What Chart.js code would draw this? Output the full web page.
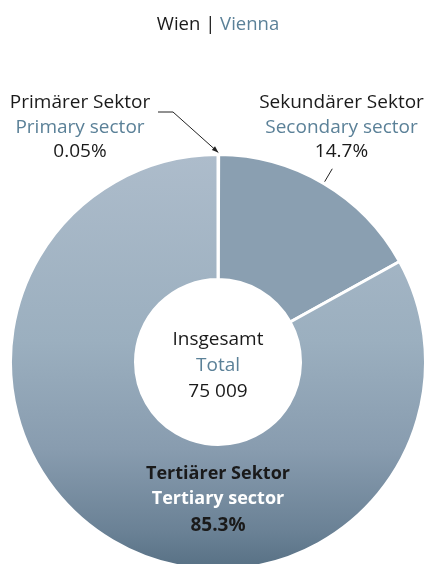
<!DOCTYPE html>
<html>
<head>
<meta charset="utf-8">
<script src="https://cdn.jsdelivr.net/npm/chart.js@4.4.1/dist/chart.umd.min.js"></script>
<style>
  html, body { margin: 0; padding: 0; background: #ffffff; }
  canvas { display: block; }
</style>
</head>
<body>
<canvas id="c" width="428" height="564"></canvas>
<script>
// ---- data ----
const categoriesDe = ['Primärer Sektor', 'Sekundärer Sektor', 'Tertiärer Sektor'];
const categoriesEn = ['Primary sector', 'Secondary sector', 'Tertiary sector'];
const percentLabels = ['0.05%', '14.7%', '85.3%'];
// slice sizes as drawn in the reference (share of the ring, %)
const sliceValues = [0.05, 16.9, 83.05];
const titleDe = 'Wien';
const titleEn = 'Vienna';
const centerDe = 'Insgesamt';
const centerEn = 'Total';
const centerValue = '75 009';

// ---- styles ----
const FONT = '"Open Sans", "Noto Sans", sans-serif';
const BLACK = '#1a1a1a';
const BLUE = '#5b8198';
const SECONDARY = '#8a9fb1';
const OUTER_R = 207.5;

function tertiaryGradient(context) {
  const chart = context.chart;
  const area = chart.chartArea;
  if (!area) return '#8da1b3';
  const cy = (area.top + area.bottom) / 2;
  const g = chart.ctx.createLinearGradient(0, cy - OUTER_R, 0, cy + OUTER_R);
  g.addColorStop(0.00, '#adbccb');
  g.addColorStop(0.45, '#9bafbf');
  g.addColorStop(0.71, '#889caf');
  g.addColorStop(0.91, '#6a8195');
  g.addColorStop(1.00, '#577084');
  return g;
}

const labelPlugin = {
  id: 'labels',
  afterDraw(chart) {
    const ctx = chart.ctx;
    const meta = chart.getDatasetMeta(0);
    const arcs = meta.data;
    const cx = arcs[0].x, cy = arcs[0].y;
    const R = arcs[0].outerRadius;
    ctx.save();
    ctx.textBaseline = 'alphabetic';

    // title with two colours
    ctx.font = '18.5px ' + FONT;
    const partA = titleDe + ' | ';
    const wA = ctx.measureText(partA).width;
    const wB = ctx.measureText(titleEn).width;
    let x0 = cx - (wA + wB) / 2;
    ctx.textAlign = 'left';
    ctx.fillStyle = BLACK;
    ctx.fillText(partA, x0, 30);
    ctx.fillStyle = BLUE;
    ctx.fillText(titleEn, x0 + wA, 30);

    ctx.textAlign = 'center';
    const lines = (x, y0, de, en, pct, bold, enColor) => {
      ctx.font = (bold ? 'bold 18px ' : '19px ') + FONT;
      ctx.fillStyle = BLACK;
      ctx.fillText(de, x, y0);
      ctx.fillStyle = enColor;
      ctx.fillText(en, x, y0 + 25);
      ctx.fillStyle = BLACK;
      if (bold) ctx.font = 'bold 19px ' + FONT;
      ctx.fillText(pct, x, y0 + (bold ? 52 : 49));
    };
    // primary (top left)
    lines(80, cy - 254, categoriesDe[0], categoriesEn[0], percentLabels[0], false, BLUE);
    // secondary (top right)
    lines(341.5, cy - 254, categoriesDe[1], categoriesEn[1], percentLabels[1], false, BLUE);
    // centre
    ctx.font = '19px ' + FONT;
    ctx.fillStyle = BLACK;
    ctx.fillText(centerDe, cx, cy - 17);
    ctx.fillStyle = BLUE;
    ctx.fillText(centerEn, cx, cy + 9);
    ctx.fillStyle = BLACK;
    ctx.fillText(centerValue, cx, cy + 35);
    // tertiary (inside ring, bottom)
    lines(cx, cy + 117, categoriesDe[2], categoriesEn[2], percentLabels[2], true, '#ffffff');

    // leader arrow for primary sector
    const a0 = arcs[0];
    const ang0 = (a0.startAngle + a0.endAngle) / 2;
    const tipX = cx + Math.cos(ang0) * (R + 2);
    const tipY = cy + Math.sin(ang0) * (R + 2);
    ctx.strokeStyle = '#222';
    ctx.lineWidth = 1;
    ctx.beginPath();
    ctx.moveTo(158, cy - 250);
    ctx.lineTo(173, cy - 250);
    ctx.lineTo(tipX, tipY);
    ctx.stroke();
    const dirA = Math.atan2(tipY - (cy - 250), tipX - 173);
    ctx.fillStyle = '#222';
    ctx.beginPath();
    ctx.moveTo(tipX, tipY);
    ctx.lineTo(tipX - 7 * Math.cos(dirA - 0.35), tipY - 7 * Math.sin(dirA - 0.35));
    ctx.lineTo(tipX - 7 * Math.cos(dirA + 0.35), tipY - 7 * Math.sin(dirA + 0.35));
    ctx.closePath();
    ctx.fill();

    // leader for secondary sector (radial at mid-angle)
    const a1 = arcs[1];
    const ang1 = (a1.startAngle + a1.endAngle) / 2;
    ctx.strokeStyle = '#222';
    ctx.beginPath();
    ctx.moveTo(cx + Math.cos(ang1) * (R + 2), cy + Math.sin(ang1) * (R + 2));
    ctx.lineTo(cx + Math.cos(ang1) * (R + 17), cy + Math.sin(ang1) * (R + 17));
    ctx.stroke();
    ctx.restore();
  }
};

new Chart(document.getElementById('c'), {
  type: 'doughnut',
  data: {
    labels: categoriesEn,
    datasets: [{
      data: sliceValues,
      backgroundColor: (context) => {
        if (context.dataIndex === 1) return SECONDARY;
        return tertiaryGradient(context);
      },
      borderColor: '#ffffff',
      borderWidth: 3,
      hoverOffset: 0
    }]
  },
  options: {
    responsive: false,
    animation: false,
    devicePixelRatio: 1,
    rotation: 0,
    radius: OUTER_R,
    cutout: (82.5 / OUTER_R * 100).toFixed(2) + '%',
    layout: { padding: { left: 8, right: 0, top: 160, bottom: 0 } },
    plugins: {
      legend: { display: false },
      tooltip: { enabled: false },
      title: { display: false }
    }
  },
  plugins: [labelPlugin]
});
</script>
</body>
</html>
